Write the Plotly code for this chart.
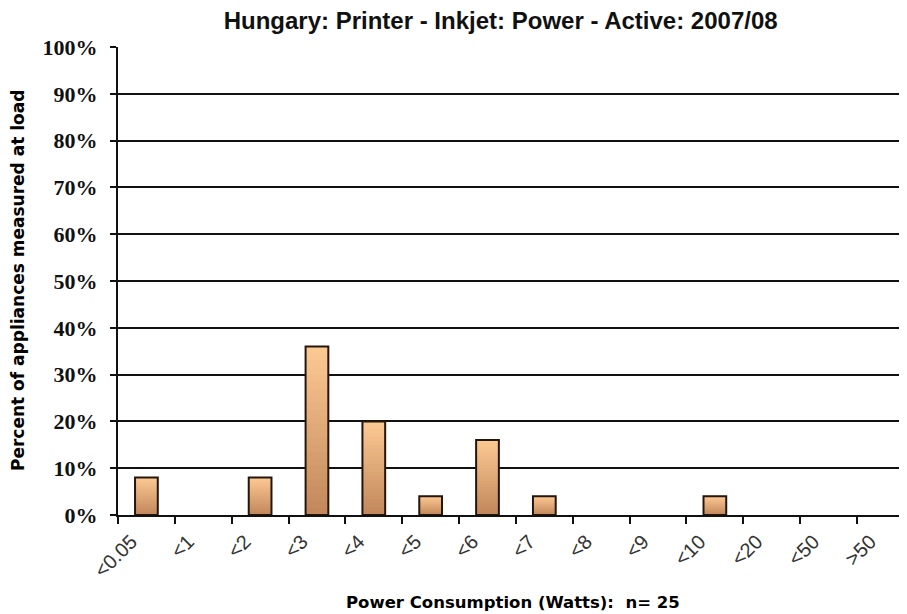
import plotly.graph_objects as go

categories = ["<0.05", "<1", "<2", "<3", "<4", "<5", "<6", "<7", "<8", "<9", "<10", "<20", "<50", ">50"]
percent = [8, 0, 8, 36, 20, 4, 16, 4, 0, 0, 4, 0, 0, 0]
y_ticks = list(range(0, 101, 10))
y_tick_labels = ["%d%%" % v for v in y_ticks]

title_text = "Hungary: Printer - Inkjet: Power - Active: 2007/08"
x_title = "Power Consumption (Watts):  n= 25"
y_title = "Percent of appliances measured at load"

# vertical gradient on the bars: light peach at top, darker tan at bottom
top_rgb = (252, 200, 146)
bottom_rgb = (194, 136, 92)
steps = 24

# empty categories get no bar at all (not even a flat outline)
shown = [v if v else None for v in percent]

fig = go.Figure()
for k in range(steps):
    t = k / (steps - 1)
    rgb = tuple(round(a + (b - a) * t) for a, b in zip(top_rgb, bottom_rgb))
    frac = 1 - k / steps
    fig.add_trace(go.Bar(
        x=categories,
        y=[v * frac if v else None for v in percent],
        width=0.4,
        marker=dict(color="rgb(%d,%d,%d)" % rgb, line=dict(width=0)),
        hoverinfo="skip",
        showlegend=False,
    ))

# outline on top
fig.add_trace(go.Bar(
    x=categories,
    y=shown,
    width=0.4,
    marker=dict(color="rgba(0,0,0,0)", line=dict(color="#24160c", width=2)),
    hovertemplate="%{x}: %{y}%<extra></extra>",
    showlegend=False,
))

# the page body has an 8px margin, so the figure is a bit smaller than the window
fig.update_layout(
    width=899,
    height=606,
    barmode="overlay",
    plot_bgcolor="white",
    paper_bgcolor="white",
    margin=dict(l=110, r=0, t=39, b=99),
    title=dict(
        text=title_text,
        x=0.548,
        xanchor="center",
        y=0.98,
        yanchor="middle",
        font=dict(family="Liberation Sans, Arial", size=24, color="#111", weight="bold"),
    ),
    xaxis=dict(
        range=[-0.5, 13.38],
        automargin=False,
        showline=True,
        linecolor="#111",
        linewidth=2,
        ticks="outside",
        ticklen=7,
        tickwidth=2,
        tickcolor="#111",
        tickson="boundaries",
        tickangle=-45,
        ticklabelshift=-15,
        ticklabelstandoff=5,
        tickfont=dict(family="Liberation Sans, Arial", size=20, color="#333"),
        showgrid=False,
    ),
    yaxis=dict(
        range=[0, 100],
        automargin=False,
        tickvals=y_ticks,
        ticktext=y_tick_labels,
        showline=True,
        linecolor="#111",
        linewidth=2,
        ticks="outside",
        ticklen=6,
        tickwidth=2,
        tickcolor="#111",
        ticklabelstandoff=8,
        showgrid=True,
        gridcolor="#111",
        gridwidth=2,
        zeroline=False,
        tickfont=dict(family="Liberation Serif, Times New Roman", size=22, color="#111", weight="bold"),
    ),
    annotations=[
        dict(
            text="<b>%s</b>" % x_title,
            xref="paper", yref="paper",
            x=0.5, y=-0.188,
            xanchor="center", yanchor="middle",
            showarrow=False,
            font=dict(family="DejaVu Sans", size=16.5, color="#000"),
        ),
        dict(
            text="<b>%s</b>" % y_title,
            xref="paper", yref="paper",
            x=-0.1267, y=0.5,
            xanchor="center", yanchor="middle",
            textangle=-90,
            showarrow=False,
            font=dict(family="DejaVu Sans", size=17, color="#000"),
        ),
    ],
)

fig.write_html("out.html")
